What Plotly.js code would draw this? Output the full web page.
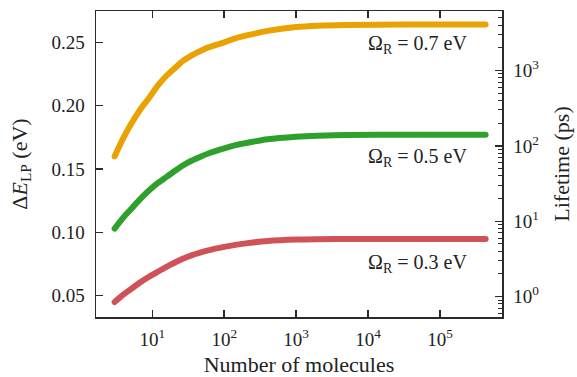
<!DOCTYPE html>
<html>
<head>
<meta charset="utf-8">
<script src="https://cdn.plot.ly/plotly-3.0.1.min.js"></script>
<style>html,body{margin:0;padding:0;background:#fff;}#chart{width:577px;height:377px;}</style>
</head>
<body>
<div id="chart"></div>
<script>
// Number of molecules (x values)
const molecules = [3, 4, 5, 7, 9, 12, 16, 20, 27, 35, 46, 60, 100, 150, 250, 400, 1000, 2000, 5000, 30000, 430000];
// Delta E_LP (eV) for each Rabi splitting
const omega07 = [0.160, 0.175, 0.185, 0.198, 0.206, 0.216, 0.224, 0.229, 0.2355, 0.2395, 0.2430, 0.2460, 0.2500, 0.2535, 0.2565, 0.2590, 0.2620, 0.2630, 0.2636, 0.2640, 0.2640];
const omega05 = [0.103, 0.112, 0.118, 0.127, 0.133, 0.139, 0.144, 0.148, 0.153, 0.1565, 0.1595, 0.1622, 0.1662, 0.1690, 0.1715, 0.1735, 0.1755, 0.1763, 0.1768, 0.1770, 0.1770];
const omega03 = [0.045, 0.051, 0.055, 0.061, 0.065, 0.069, 0.073, 0.0758, 0.0793, 0.0818, 0.0840, 0.0858, 0.0885, 0.0903, 0.0920, 0.0932, 0.0943, 0.0946, 0.0947, 0.0948, 0.0948];
const seriesLabels = ["Ω<sub>R</sub> = 0.7 eV", "Ω<sub>R</sub> = 0.5 eV", "Ω<sub>R</sub> = 0.3 eV"];
// tick labels
const xTickVals = [10, 100, 1000, 10000, 100000];
const xTickText = ["10<sup>1</sup>", "10<sup>2</sup>", "10<sup>3</sup>", "10<sup>4</sup>", "10<sup>5</sup>"];
const yTickVals = [0.05, 0.10, 0.15, 0.20, 0.25];
const yTickText = ["0.05", "0.10", "0.15", "0.20", "0.25"];
const y2TickVals = [1, 10, 100, 1000];
const y2TickText = ["10<sup>0</sup>", "10<sup>1</sup>", "10<sup>2</sup>", "10<sup>3</sup>"];

const minorVals = [];
for (let d = 0.1; d <= 1000; d *= 10) for (let m = 2; m <= 9; m++) minorVals.push(Math.round(d * m * 1000) / 1000);

const FONT = "Liberation Serif, Times New Roman, serif";
const AX = "#2b2b2b";
const colors = ["#E9A202", "#2DA12B", "#CF5259"];
const ys = [omega07, omega05, omega03];

const traces = ys.map((y, i) => ({
  x: molecules, y: y, type: "scatter", mode: "lines",
  line: {color: colors[i], width: 6, shape: "spline", smoothing: 0.8},
  hoverinfo: "none", showlegend: false
}));
// empty trace so the right-hand lifetime axis is drawn
traces.push({x: [], y: [], yaxis: "y2", type: "scatter", mode: "lines", showlegend: false, hoverinfo: "none"});

const annY = [0.889, 0.520, 0.176];
const annotations = seriesLabels.map((t, i) => ({
  text: t, xref: "paper", yref: "paper", x: 0.918, y: annY[i],
  xanchor: "right", yanchor: "middle", showarrow: false,
  font: {family: FONT, size: 20, color: "#222"}
}));

const layout = {
  width: 577, height: 377,
  margin: {l: 96, r: 75, t: 11, b: 60},
  paper_bgcolor: "#fff", plot_bgcolor: "#fff",
  showlegend: false,
  font: {family: FONT, size: 19, color: "#222"},
  xaxis: {
    type: "log", range: [0.218, 5.861],
    tickmode: "array", tickvals: xTickVals, ticktext: xTickText,
    ticks: "inside", ticklen: 7, tickwidth: 1.5, tickcolor: AX,
    showline: true, linecolor: AX, linewidth: 1.5, mirror: "ticks",
    showgrid: false, zeroline: false, ticklabelstandoff: 5,
    title: {text: "Number of molecules", font: {family: FONT, size: 22, color: "#222"}, standoff: 15}
  },
  yaxis: {
    range: [0.0332, 0.2747],
    tickmode: "array", tickvals: yTickVals, ticktext: yTickText,
    ticks: "inside", ticklen: 7, tickwidth: 1.5, tickcolor: AX,
    showline: true, linecolor: AX, linewidth: 1.5, mirror: false,
    showgrid: false, zeroline: false, ticklabelstandoff: 6,
    title: {text: "Δ<i>E</i><sub>LP</sub> (eV)", font: {family: FONT, size: 22, color: "#222"}, standoff: 18}
  },
  yaxis2: {
    type: "log", range: [-0.27, 3.79], overlaying: "y", side: "right", anchor: "x",
    tickmode: "array", tickvals: y2TickVals, ticktext: y2TickText,
    ticks: "inside", ticklen: 7, tickwidth: 1.5, tickcolor: AX,
    minor: {tickmode: "array", tickvals: minorVals, ticks: "inside", ticklen: 4, tickwidth: 1, tickcolor: AX},
    showline: true, linecolor: AX, linewidth: 1.5,
    showgrid: false, zeroline: false, ticklabelstandoff: 6,
    title: {text: "Lifetime (ps)", font: {family: FONT, size: 22, color: "#222"}, standoff: 15}
  },
  annotations: annotations
};

Plotly.newPlot("chart", traces, layout, {staticPlot: true, displayModeBar: false}).then(() => {
  document.querySelectorAll("#chart path.js-line").forEach(p => { p.style.strokeLinecap = "round"; p.style.strokeLinejoin = "round"; });
});
</script>
</body>
</html>
